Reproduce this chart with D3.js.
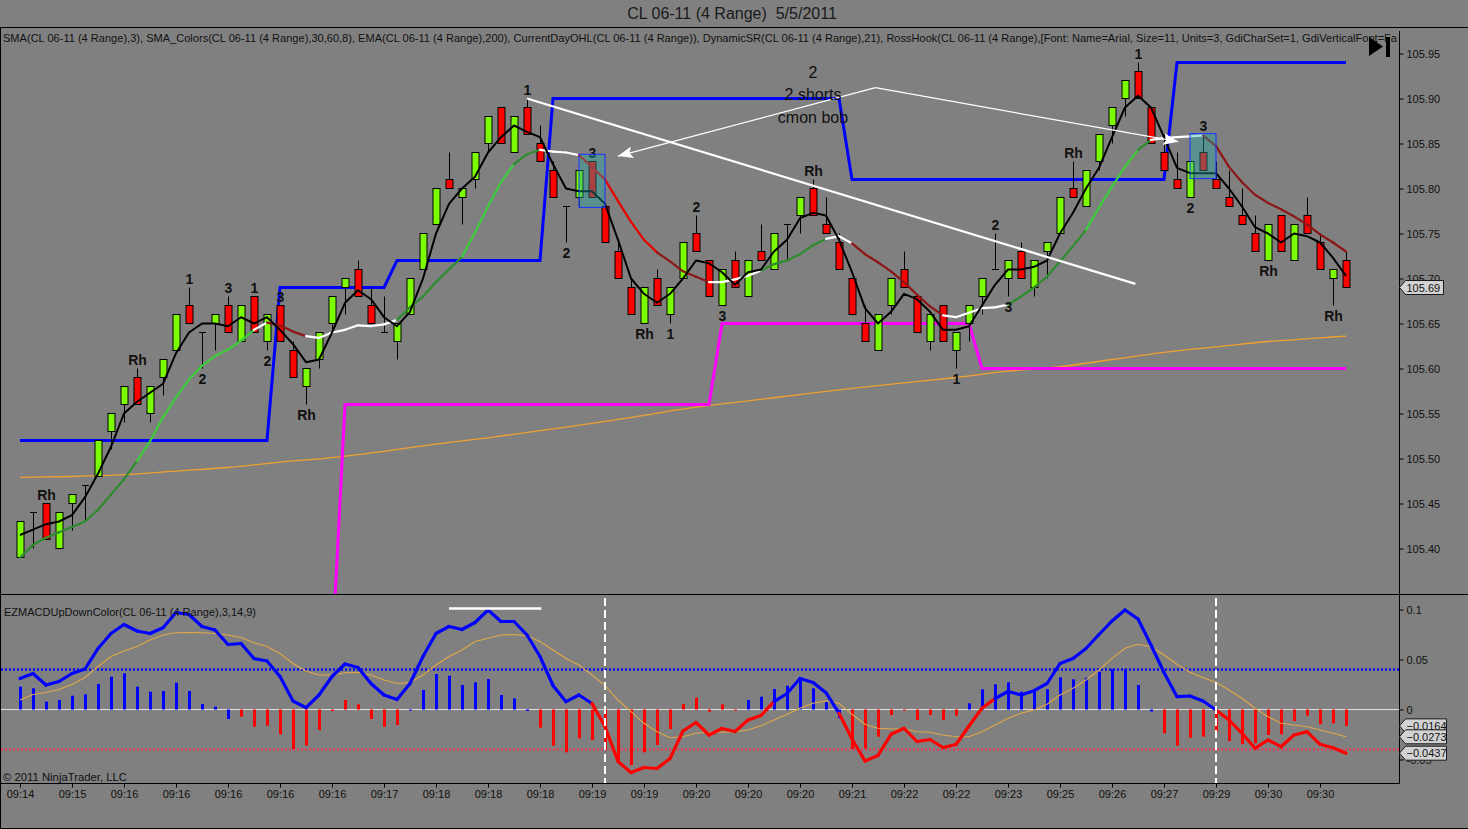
<!DOCTYPE html>
<html>
<head>
<meta charset="utf-8">
<script src="https://cdn.jsdelivr.net/npm/d3@7"></script>
<style>
html, body { margin: 0; padding: 0; background: #808080; overflow: hidden; }
svg { display: block; font-family: "Liberation Sans", Arial, sans-serif; }
</style>
</head>
<body>
<svg id="chart" width="1468" height="829"></svg>
<script>
// ---- data (CL 06-11, 4 tick range bars, 5/5/2011) ----
const timeLabels = ["09:14","09:15","09:16","09:16","09:16","09:16","09:16","09:17","09:18","09:18","09:18","09:19","09:19",
  "09:20","09:20","09:20","09:21","09:22","09:22","09:23","09:25","09:26","09:27","09:29","09:30","09:30"];
const labelBars = [0,4,8,12,16,20,24,28,32,36,40,44,48,52,56,60,64,68,72,76,80,84,88,92,96,100];

const opens = [105.39,105.44,105.45,105.40,105.45,105.47,105.48,105.53,105.56,105.59,
  105.55,105.59,105.62,105.67,105.64,105.65,105.67,105.63,105.68,105.63,
  105.67,105.62,105.58,105.61,105.65,105.69,105.71,105.67,105.64,105.63,
  105.66,105.71,105.76,105.81,105.79,105.81,105.85,105.89,105.84,105.89,
  105.85,105.82,105.78,105.79,105.83,105.78,105.73,105.69,105.65,105.70,
  105.66,105.70,105.75,105.72,105.67,105.72,105.68,105.73,105.71,105.76,
  105.77,105.80,105.76,105.74,105.70,105.65,105.62,105.67,105.71,105.68,
  105.63,105.67,105.62,105.65,105.68,105.71,105.70,105.73,105.69,105.73,
  105.75,105.80,105.78,105.83,105.87,105.90,105.93,105.89,105.84,105.81,
  105.79,105.84,105.81,105.79,105.77,105.75,105.72,105.77,105.72,105.77,
  105.74,105.70,105.72];
const highs = [105.43,105.44,105.45,105.44,105.46,105.47,105.52,105.55,105.58,105.60,
  105.58,105.61,105.66,105.69,105.64,105.66,105.68,105.67,105.68,105.66,
  105.67,105.63,105.60,105.64,105.68,105.70,105.72,105.69,105.68,105.65,
  105.70,105.75,105.80,105.84,105.80,105.84,105.88,105.89,105.88,105.90,
  105.87,105.83,105.78,105.82,105.83,105.78,105.74,105.70,105.69,105.71,
  105.69,105.74,105.77,105.72,105.71,105.73,105.72,105.76,105.75,105.76,
  105.79,105.81,105.79,105.75,105.70,105.67,105.66,105.70,105.73,105.68,
  105.66,105.67,105.64,105.67,105.70,105.75,105.72,105.74,105.72,105.74,
  105.79,105.83,105.82,105.86,105.89,105.92,105.94,105.89,105.86,105.84,
  105.83,105.86,105.83,105.82,105.80,105.77,105.76,105.77,105.76,105.79,
  105.75,105.71,105.73];
const lows = [105.39,105.40,105.41,105.40,105.42,105.43,105.48,105.51,105.54,105.56,
  105.54,105.57,105.62,105.65,105.60,105.62,105.64,105.63,105.64,105.62,
  105.63,105.59,105.56,105.60,105.64,105.66,105.68,105.65,105.64,105.61,
  105.66,105.71,105.76,105.80,105.76,105.80,105.84,105.85,105.84,105.86,
  105.83,105.79,105.74,105.78,105.79,105.74,105.70,105.66,105.65,105.67,
  105.65,105.70,105.73,105.68,105.67,105.69,105.68,105.72,105.71,105.72,
  105.75,105.77,105.75,105.71,105.66,105.63,105.62,105.66,105.69,105.64,
  105.62,105.63,105.60,105.63,105.66,105.71,105.68,105.70,105.68,105.70,
  105.75,105.79,105.78,105.82,105.85,105.88,105.90,105.85,105.82,105.80,
  105.79,105.82,105.80,105.78,105.76,105.73,105.72,105.73,105.72,105.75,
  105.71,105.67,105.69];
const closes = [105.43,105.44,105.41,105.44,105.46,105.47,105.52,105.55,105.58,105.56,
  105.58,105.61,105.66,105.65,105.64,105.66,105.64,105.67,105.64,105.66,
  105.63,105.59,105.60,105.64,105.68,105.70,105.68,105.65,105.64,105.65,
  105.70,105.75,105.80,105.80,105.80,105.84,105.88,105.85,105.88,105.86,
  105.83,105.79,105.78,105.82,105.79,105.74,105.70,105.66,105.69,105.67,
  105.69,105.74,105.73,105.68,105.71,105.69,105.72,105.72,105.75,105.76,
  105.79,105.77,105.75,105.71,105.66,105.63,105.66,105.70,105.69,105.64,
  105.66,105.63,105.64,105.67,105.70,105.71,105.72,105.70,105.72,105.74,
  105.79,105.79,105.82,105.86,105.89,105.92,105.90,105.85,105.82,105.80,
  105.83,105.82,105.80,105.78,105.76,105.73,105.76,105.73,105.76,105.75,
  105.71,105.71,105.69];

// SMA(3), black line
const sma3 = [105.415,105.421,105.427,105.430,105.437,105.457,105.483,105.513,105.550,105.563,
  105.573,105.583,105.617,105.640,105.650,105.650,105.647,105.657,105.650,105.657,
  105.643,105.627,105.607,105.610,105.640,105.673,105.687,105.677,105.657,105.647,
  105.663,105.700,105.750,105.783,105.800,105.813,105.840,105.857,105.870,105.863,
  105.857,105.827,105.800,105.797,105.797,105.783,105.743,105.700,105.683,105.673,
  105.683,105.700,105.720,105.717,105.707,105.693,105.707,105.710,105.730,105.743,
  105.767,105.773,105.770,105.743,105.707,105.667,105.650,105.663,105.683,105.677,
  105.663,105.643,105.643,105.647,105.670,105.693,105.710,105.710,105.713,105.720,
  105.750,105.773,105.800,105.823,105.857,105.890,105.903,105.890,105.857,105.823,
  105.817,105.817,105.817,105.800,105.780,105.757,105.750,105.740,105.750,105.747,
  105.740,105.723,105.703];

// SMA_Colors(30,60,8) line and its colour state runs
const smaColors = [105.390,105.404,105.412,105.418,105.424,105.430,105.443,105.460,105.477,105.497,
  105.519,105.546,105.568,105.588,105.603,105.614,105.621,105.631,105.643,105.651,
  105.648,105.641,105.636,105.634,105.640,105.643,105.648,105.647,105.649,105.654,
  105.668,105.680,105.696,105.710,105.724,105.751,105.780,105.807,105.827,105.838,
  105.843,105.841,105.840,105.837,105.824,105.810,105.786,105.763,105.743,105.729,
  105.719,105.708,105.702,105.696,105.696,105.699,105.703,105.709,105.716,105.720,
  105.727,105.737,105.744,105.747,105.739,105.727,105.718,105.708,105.696,105.682,
  105.669,105.659,105.657,105.662,105.667,105.668,105.671,105.680,105.690,105.702,
  105.719,105.736,105.754,105.779,105.802,105.824,105.843,105.854,105.856,105.857,
  105.858,105.859,105.847,105.824,105.807,105.793,105.784,105.777,105.769,105.760,
  105.749,105.740,105.730];
const smaRuns = [[0,9,"up"],[10,18,"upFast"],[19,19,"flat"],[20,22,"down"],[23,29,"flat"],[30,34,"up"],
  [35,38,"upFast"],[39,40,"up"],[41,43,"flat"],[44,49,"downFast"],[50,53,"down"],[54,57,"flat"],
  [58,62,"up"],[63,64,"flat"],[65,71,"down"],[72,76,"flat"],[77,82,"up"],[83,86,"upFast"],
  [87,87,"up"],[88,91,"flat"],[92,102,"down"]];

// EMA(200), read every 4 bars
const emaBars = [0,4,8,12,16,20,24,28,32,36,40,44,48,52,56,60,64,68,72,76,80,84,88,92,96,100,102];
const emaValues = [105.479,105.480,105.482,105.486,105.490,105.496,105.501,105.508,105.516,105.523,
  105.531,105.539,105.548,105.557,105.564,105.571,105.578,105.584,105.590,105.597,
  105.602,105.610,105.618,105.624,105.630,105.634,105.636];

// DynamicSR resistance (blue) and support (magenta): [bar, level]
const resistance = [[0,105.52],[19,105.52],[20,105.69],[28,105.69],[29,105.72],[40,105.72],[41,105.90],
  [63,105.90],[64,105.81],[88,105.81],[89,105.94],[102,105.94]];
const support = [[24,105.28],[25,105.56],[53,105.56],[54,105.65],[73,105.65],[74,105.60],[102,105.60]];

// RossHook labels: [bar, text, above/below]
const rossLabels = [[2,"Rh","a"],[9,"Rh","a"],[13,"1","a"],[14,"2","b"],[16,"3","a"],[18,"1","a"],[19,"2","b"],
  [20,"3","a"],[22,"Rh","b"],[39,"1","a"],[42,"2","b"],[44,"3","a"],[48,"Rh","b"],[50,"1","b"],[52,"2","a"],
  [54,"3","b"],[61,"Rh","a"],[72,"1","b"],[75,"2","a"],[76,"3","b"],[81,"Rh","a"],[86,"1","a"],[90,"2","b"],
  [91,"3","a"],[96,"Rh","b"],[101,"Rh","b"]];

// hand drawn objects, in [bar, price] units
const trendLine = [[39,105.900],[85.8,105.694]];
const arrowStart = [65.8,105.912];
const arrowEnds = [[46.0,105.836],[89.1,105.852]];
const noteLines = ["2","2 shorts","cmon bob"];
const noteAnchor = [61,105.923];
const boxes = [[43,105.838,45,105.779],[90,105.861,92,105.811]];

// EZMACDUpDownColor(3,14,9)
const macdLine = [0.031,0.036,0.0245,0.028,0.036,0.0405,0.061,0.076,0.085,0.0785,
  0.076,0.0818,0.097,0.095,0.083,0.0795,0.065,0.066,0.051,0.0485,
  0.033,0.0085,0.0018,0.0145,0.033,0.0455,0.042,0.026,0.0145,0.010,
  0.026,0.053,0.076,0.083,0.080,0.087,0.0995,0.088,0.088,0.0745,
  0.053,0.024,0.0078,0.0145,0.006,-0.017,-0.052,-0.063,-0.058,-0.059,
  -0.049,-0.0215,-0.013,-0.0255,-0.019,-0.022,-0.0105,-0.006,0.0078,0.016,
  0.031,0.027,0.0168,-0.0038,-0.0295,-0.0515,-0.046,-0.0248,-0.0188,-0.032,
  -0.030,-0.038,-0.035,-0.0165,0.0012,0.011,0.018,0.0145,0.0188,0.026,
  0.046,0.051,0.061,0.075,0.0885,0.0995,0.0905,0.0645,0.037,0.0128,
  0.0135,0.0085,-0.0005,-0.0105,-0.0238,-0.0388,-0.0305,-0.0372,-0.0255,-0.0222,
  -0.0348,-0.0382,-0.0437];
const macdSignal = [0.0095,0.015,0.017,0.020,0.025,0.032,0.043,0.053,0.0585,0.063,
  0.0695,0.0745,0.0768,0.077,0.0768,0.076,0.0745,0.072,0.0668,0.063,
  0.056,0.046,0.0385,0.0345,0.0345,0.0368,0.037,0.0345,0.0295,0.026,
  0.027,0.0345,0.0445,0.053,0.0595,0.068,0.0712,0.0745,0.075,0.0738,
  0.068,0.0595,0.051,0.0445,0.0345,0.0238,0.0095,-0.0022,-0.0138,-0.0222,
  -0.0282,-0.0272,-0.0238,-0.0228,-0.0228,-0.0222,-0.0205,-0.0162,-0.0105,-0.0048,
  0.0012,0.0062,0.0085,0.0062,-0.0048,-0.0148,-0.0188,-0.0195,-0.0195,-0.0222,
  -0.0228,-0.0255,-0.0272,-0.0272,-0.0222,-0.0155,-0.0088,-0.0038,-0.0005,0.0052,
  0.0145,0.0212,0.0295,0.0395,0.0512,0.0612,0.0652,0.0628,0.0545,0.0452,
  0.0372,0.0318,0.0272,0.0195,0.0112,0.0012,-0.0072,-0.0138,-0.0155,-0.0172,
  -0.0205,-0.0238,-0.0273];
const macdHist = [0.0228,0.0212,0.0078,0.0095,0.0138,0.0152,0.0255,0.0328,0.0362,0.0228,
  0.0178,0.0185,0.0268,0.0185,0.0055,0.0028,-0.0095,-0.0072,-0.0172,-0.0162,
  -0.0248,-0.0395,-0.0362,-0.0205,-0.0015,0.0095,0.0052,-0.0095,-0.0172,-0.0155,
  -0.001,0.0195,0.0355,0.0338,0.0245,0.0272,0.0305,0.0145,0.0112,-0.0015,
  -0.0182,-0.0362,-0.0428,-0.0288,-0.0305,-0.0405,-0.0522,-0.0555,-0.0428,-0.0355,
  -0.0195,0.0055,0.0118,-0.0022,0.0052,-0.001,0.0095,0.0128,0.0205,0.0238,
  0.0318,0.0212,0.0078,-0.0088,-0.0395,-0.0388,-0.0272,-0.0055,-0.001,-0.0105,
  -0.0055,-0.0105,-0.0062,0.0062,0.0202,0.0252,0.0272,0.0178,0.0185,0.0202,
  0.0322,0.0302,0.0318,0.0378,0.0405,0.0405,0.0245,-0.002,-0.0238,-0.0362,
  -0.0282,-0.0272,-0.0222,-0.0315,-0.0348,-0.0338,-0.0255,-0.0248,-0.0115,-0.0062,
  -0.0148,-0.0138,-0.0164];
const macdRuns = [[0,44,"up"],[45,58,"down"],[59,63,"up"],[64,75,"down"],[76,92,"up"],[93,102,"down"]];
const histRuns = [[0,16,"up"],[17,29,"down"],[30,39,"up"],[40,55,"down"],[56,63,"up"],[64,72,"down"],[73,87,"up"],[88,102,"down"]];
const macdLevels = [0.04, -0.04];
const macdMarks = [33, 40.1, 0.101];   // white line drawn on the macd panel
const dividerBars = [45, 92];

const priceTicks = [105.40,105.45,105.50,105.55,105.60,105.65,105.70,105.75,105.80,105.85,105.90,105.95];
const macdTicks = [-0.05, 0, 0.05, 0.1];

// ---- drawing ----
const W = 1468, H = 829, AX = 1399.5;
const svg = d3.select("#chart");
const defs = svg.append("defs");

const x = d3.scaleLinear().domain([0, 102]).range([20, 1346]);
const yP = d3.scaleLinear().domain([105.40, 105.95]).range([548.5, 53.5]);
const yM = d3.scaleLinear().domain([-0.05, 0.1]).range([759.5, 609.5]);
const stateAt = (runs, i) => runs.find(r => i >= r[0] && i <= r[1])[2];

svg.append("rect").attr("width", W).attr("height", H).attr("fill", "#808080");

defs.append("clipPath").attr("id", "clipP").append("rect").attr("x", 1).attr("y", 28).attr("width", AX - 1).attr("height", 566);
defs.append("clipPath").attr("id", "clipM").append("rect").attr("x", 1).attr("y", 595).attr("width", AX - 1).attr("height", 188);
defs.append("marker").attr("id", "arrow").attr("viewBox", "0 0 15 12").attr("refX", 15).attr("refY", 6)
  .attr("markerWidth", 15).attr("markerHeight", 12).attr("markerUnits", "userSpaceOnUse").attr("orient", "auto")
  .append("path").attr("d", "M0,0 L15,6 L0,12 L3,6 Z").attr("fill", "#fff");

// title + frame
svg.append("text").attr("x", 732).attr("y", 19).attr("text-anchor", "middle").attr("font-size", 16)
  .attr("fill", "#1a1a1a").style("white-space", "pre").text("CL 06-11 (4 Range)  5/5/2011");

const frame = svg.append("g").attr("stroke", "#000").attr("stroke-width", 1);
frame.append("line").attr("x1", 0).attr("x2", W).attr("y1", 27.5).attr("y2", 27.5);
frame.append("line").attr("x1", 0).attr("x2", W).attr("y1", 594.5).attr("y2", 594.5);
frame.append("line").attr("x1", 0).attr("x2", AX).attr("y1", 783.5).attr("y2", 783.5);
frame.append("line").attr("x1", AX).attr("x2", AX).attr("y1", 31).attr("y2", 783.5);
frame.append("line").attr("x1", 0.5).attr("x2", 0.5).attr("y1", 27.5).attr("y2", 828.5);
frame.append("line").attr("x1", 0).attr("x2", W).attr("y1", 828.5).attr("y2", 828.5);

// ---- price panel ----
const gP = svg.append("g").attr("clip-path", "url(#clipP)");

const stepLine = d3.line().x(d => x(d[0])).y(d => yP(d[1]));
gP.append("path").datum(emaBars.map((b, k) => [b, emaValues[k]]))
  .attr("d", stepLine.curve(d3.curveMonotoneX)).attr("fill", "none").attr("stroke", "#f0a030").attr("stroke-width", 1.3);
stepLine.curve(d3.curveLinear);
gP.append("path").datum(support).attr("d", stepLine).attr("fill", "none").attr("stroke", "#ff00ff").attr("stroke-width", 3);
gP.append("path").datum(resistance).attr("d", stepLine).attr("fill", "none").attr("stroke", "#0000ff").attr("stroke-width", 3);

const bars = closes.map((c, i) => ({ i, o: opens[i], h: highs[i], l: lows[i], c }));
const gC = gP.append("g");
gC.selectAll(".wick").data(bars).join("line").attr("class", "wick")
  .attr("x1", d => x(d.i) + 0.5).attr("x2", d => x(d.i) + 0.5)
  .attr("y1", d => yP(d.h)).attr("y2", d => yP(d.l)).attr("stroke", "#000");
gC.selectAll(".body").data(bars.filter(d => d.o !== d.c)).join("rect").attr("class", "body")
  .attr("x", d => x(d.i) - 3).attr("width", 7)
  .attr("y", d => yP(Math.max(d.o, d.c))).attr("height", d => Math.abs(yP(d.o) - yP(d.c)))
  .attr("fill", d => d.c > d.o ? "#7cfc00" : "#ff0000").attr("stroke", "#000");
gC.selectAll(".doji").data(bars.filter(d => d.o === d.c)).join("line").attr("class", "doji")
  .attr("x1", d => x(d.i) - 3).attr("x2", d => x(d.i) + 4)
  .attr("y1", d => yP(d.o)).attr("y2", d => yP(d.o)).attr("stroke", "#000");

const smaColor = { up: "#2e8b2e", upFast: "#3ccc3c", flat: "#ffffff", down: "#8c1616", downFast: "#e60000" };
gP.append("g").selectAll("line").data(d3.range(1, smaColors.length)).join("line")
  .attr("x1", i => x(i - 1)).attr("y1", i => yP(smaColors[i - 1]))
  .attr("x2", i => x(i)).attr("y2", i => yP(smaColors[i]))
  .attr("stroke", i => smaColor[stateAt(smaRuns, i)]).attr("stroke-width", 2.2).attr("stroke-linecap", "round");

gP.append("path").datum(sma3.map((v, i) => [i, v])).attr("d", stepLine)
  .attr("fill", "none").attr("stroke", "#000").attr("stroke-width", 2).attr("stroke-linejoin", "round");

// ross hook labels
gP.append("g").selectAll("text").data(rossLabels).join("text")
  .attr("x", d => x(d[0]) + 0.5)
  .attr("y", d => d[2] === "a" ? yP(highs[d[0]]) - 4 : yP(lows[d[0]]) + 15)
  .attr("text-anchor", "middle").attr("font-size", 14).attr("font-weight", "bold").attr("fill", "#111")
  .text(d => d[1]);

// drawn objects
gP.append("line").attr("x1", x(trendLine[0][0])).attr("y1", yP(trendLine[0][1]))
  .attr("x2", x(trendLine[1][0])).attr("y2", yP(trendLine[1][1])).attr("stroke", "#fff").attr("stroke-width", 2.2);
gP.append("g").selectAll("line").data(arrowEnds).join("line")
  .attr("x1", x(arrowStart[0])).attr("y1", yP(arrowStart[1]))
  .attr("x2", d => x(d[0])).attr("y2", d => yP(d[1]))
  .attr("stroke", "#fff").attr("stroke-width", 1.2).attr("marker-end", "url(#arrow)");
gP.append("g").selectAll("text").data(noteLines).join("text")
  .attr("x", x(noteAnchor[0])).attr("y", (d, k) => yP(noteAnchor[1]) + k * 22.5)
  .attr("text-anchor", "middle").attr("font-size", 16).attr("fill", "#111").text(d => d);
gP.append("g").selectAll("rect").data(boxes).join("rect")
  .attr("x", d => x(d[0])).attr("y", d => yP(d[1]))
  .attr("width", d => x(d[2]) - x(d[0])).attr("height", d => yP(d[3]) - yP(d[1]))
  .attr("fill", "rgba(30,170,170,0.38)").attr("stroke", "#1a30ff").attr("stroke-width", 1);

// indicator caption + icon
svg.append("text").attr("x", 3).attr("y", 42).attr("font-size", 11).attr("fill", "#111")
  .attr("textLength", 1394).attr("lengthAdjust", "spacingAndGlyphs")
  .text("SMA(CL 06-11 (4 Range),3), SMA_Colors(CL 06-11 (4 Range),30,60,8), EMA(CL 06-11 (4 Range),200), CurrentDayOHL(CL 06-11 (4 Range)), DynamicSR(CL 06-11 (4 Range),21), RossHook(CL 06-11 (4 Range),[Font: Name=Arial, Size=11, Units=3, GdiCharSet=1, GdiVerticalFont=Fa");
svg.append("path").attr("d", "M1369,37 L1383,46.5 L1369,56 Z").attr("fill", "#000");
svg.append("rect").attr("x", 1386).attr("y", 37).attr("width", 4).attr("height", 20).attr("fill", "#000");

// price axis
const axP = svg.append("g").attr("transform", `translate(${AX},0)`)
  .call(d3.axisRight(yP).tickValues(priceTicks).tickSize(4).tickFormat(d3.format(".2f")));
axP.select(".domain").remove();
axP.attr("font-family", null).attr("font-size", 11);
axP.selectAll("text").attr("fill", "#111");
axP.selectAll("line").attr("stroke", "#000");

function valueTag(yPix, text, w) {
  const t = svg.append("g").attr("transform", `translate(${AX},${yPix})`);
  t.append("path").attr("d", `M0,0 L6,-7 H${w} V7 H6 Z`).attr("fill", "#d2d2d2").attr("stroke", "#1a1a1a");
  t.append("text").attr("x", 7).attr("y", 4).attr("font-size", 11).attr("fill", "#111").text(text);
}
valueTag(yP(closes[closes.length - 1]), d3.format(".2f")(closes[closes.length - 1]), 44);

// ---- MACD panel ----
const gM = svg.append("g").attr("clip-path", "url(#clipM)");
gM.append("g").selectAll("line").data(macdLevels).join("line")
  .attr("x1", 1).attr("x2", AX).attr("y1", d => yM(d)).attr("y2", d => yM(d))
  .attr("stroke", d => d > 0 ? "#0000ff" : "#e0405a").attr("stroke-width", 2.5).attr("stroke-dasharray", "2,2");
gM.append("line").attr("x1", 1).attr("x2", AX).attr("y1", yM(0)).attr("y2", yM(0)).attr("stroke", "#e0e0e0").attr("stroke-width", 1);

const histColor = { up: "#0000ff", down: "#ff0000" };
gM.append("g").selectAll("rect").data(macdHist.map((v, i) => ({ v, i }))).join("rect")
  .attr("x", d => x(d.i) - 1).attr("width", 3)
  .attr("y", d => Math.min(yM(0), yM(d.v))).attr("height", d => Math.max(1, Math.abs(yM(d.v) - yM(0))))
  .attr("fill", d => histColor[stateAt(histRuns, d.i)]);

gM.append("path").datum(macdSignal.map((v, i) => [i, v]))
  .attr("d", d3.line().x(d => x(d[0])).y(d => yM(d[1])))
  .attr("fill", "none").attr("stroke", "#e0a848").attr("stroke-width", 1.1);

gM.append("g").selectAll("line").data(d3.range(1, macdLine.length)).join("line")
  .attr("x1", i => x(i - 1)).attr("y1", i => yM(macdLine[i - 1]))
  .attr("x2", i => x(i)).attr("y2", i => yM(macdLine[i]))
  .attr("stroke", i => histColor[stateAt(macdRuns, i)]).attr("stroke-width", 3.2).attr("stroke-linecap", "round");

gM.append("g").selectAll("line").data(dividerBars).join("line")
  .attr("x1", d => x(d)).attr("x2", d => x(d)).attr("y1", 598).attr("y2", 783)
  .attr("stroke", "#fff").attr("stroke-width", 2).attr("stroke-dasharray", "8,4");
gM.append("line").attr("x1", x(macdMarks[0])).attr("x2", x(macdMarks[1]))
  .attr("y1", yM(macdMarks[2])).attr("y2", yM(macdMarks[2])).attr("stroke", "#fff").attr("stroke-width", 2.5);

svg.append("text").attr("x", 4).attr("y", 616).attr("font-size", 11).attr("fill", "#111")
  .attr("textLength", 252).attr("lengthAdjust", "spacingAndGlyphs")
  .text("EZMACDUpDownColor(CL 06-11 (4 Range),3,14,9)");
svg.append("text").attr("x", 3).attr("y", 781).attr("font-size", 11).attr("fill", "#111")
  .attr("textLength", 124).attr("lengthAdjust", "spacingAndGlyphs")
  .text("© 2011 NinjaTrader, LLC");

const axM = svg.append("g").attr("transform", `translate(${AX},0)`)
  .call(d3.axisRight(yM).tickValues(macdTicks).tickSize(4).tickFormat(d => String(d)));
axM.select(".domain").remove();
axM.attr("font-family", null).attr("font-size", 11);
axM.selectAll("text").attr("fill", "#111");
axM.selectAll("line").attr("stroke", "#000");

const last = macdLine.length - 1;
const fmt4 = d3.format(".4f");
valueTag(yM(macdHist[last]), fmt4(macdHist[last]), 47);
valueTag(yM(macdSignal[last]), fmt4(macdSignal[last]), 47);
valueTag(yM(macdLine[last]), fmt4(macdLine[last]), 47);

// time axis
const axT = svg.append("g").attr("transform", "translate(0,783.5)")
  .call(d3.axisBottom(x).tickValues(labelBars).tickSize(4).tickFormat((d, k) => timeLabels[k]));
axT.select(".domain").remove();
axT.attr("font-family", null).attr("font-size", 11);
axT.selectAll("text").attr("fill", "#111");
axT.selectAll("line").attr("stroke", "#000");
</script>
</body>
</html>
